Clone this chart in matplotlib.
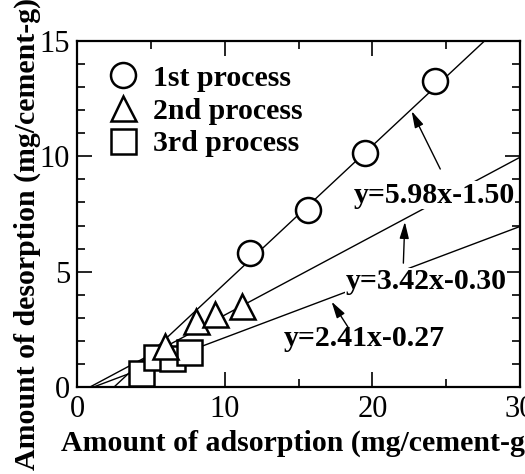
import matplotlib
matplotlib.use("Agg")
import matplotlib.pyplot as plt
import numpy as np

plt.rcParams['font.family'] = ['Liberation Serif', 'DejaVu Serif']

# ---------------------------------------------------------------------------
# DATA
# ---------------------------------------------------------------------------
series_names = ["1st process", "2nd process", "3rd process"]
series_markers = ["o", "^", "s"]

ads_1st = [11.71, 15.66, 19.52, 24.24]
des_1st = [5.80, 7.67, 10.13, 13.26]

ads_2nd = [5.96, 8.06, 9.34, 11.15]
des_2nd = [1.76, 2.85, 3.16, 3.52]

ads_3rd = [4.32, 5.33, 6.43, 7.58]
des_3rd = [0.62, 1.32, 1.26, 1.53]

# fitted lines (slope given per 10 units of adsorption in the labels)
fit_slopes = [0.598, 0.342, 0.241]
fit_intercepts = [-1.50, -0.30, -0.27]
fit_labels = ["y=5.98x-1.50", "y=3.42x-0.30", "y=2.41x-0.27"]

# label centre and arrow tail/tip, in data coords
label_pos = [(24.17, 8.32), (23.66, 4.56), (19.43, 2.12)]
arrow_tip = [(22.66, 11.96), (22.2, 7.16), (17.24, 3.70)]
arrow_tail = [(24.6, 9.45), (22.1, 5.37), (18.35, 2.60)]

XMAX, YMAX = 30, 15
FS = 21.5

# ---------------------------------------------------------------------------
# PLOT
# ---------------------------------------------------------------------------
fig = plt.figure(figsize=(5.25, 4.74), dpi=100)
ax = fig.add_axes([0.1467, 0.1835, 0.8438, 0.73])

for slope, icpt in zip(fit_slopes, fit_intercepts):
    x0 = -icpt / slope
    xs = np.array([x0, XMAX + 5])
    ax.plot(xs, slope * xs + icpt, color="black", lw=1.0, zorder=2)

mk = dict(markersize=18, markerfacecolor="white", markeredgecolor="black",
          markeredgewidth=1.8, linestyle="none", zorder=4)
h1, = ax.plot(ads_1st, des_1st, series_markers[0], label=series_names[0], **mk)
h3, = ax.plot(ads_3rd, des_3rd, series_markers[2], label=series_names[2], **mk)
h2, = ax.plot(ads_2nd, des_2nd, series_markers[1], label=series_names[1], **mk)

for text, pos, tip, tail in zip(fit_labels, label_pos, arrow_tip, arrow_tail):
    ax.text(pos[0], pos[1], text, fontsize=FS, fontweight="bold",
            ha="center", va="center", zorder=3,
            bbox=dict(facecolor="white", edgecolor="none", pad=0.5))
    ax.annotate("", xy=tip, xytext=tail, zorder=3,
                arrowprops=dict(arrowstyle="-|>,head_length=1.0,head_width=0.28",
                                color="black", lw=1.0, shrinkA=0, shrinkB=0))

ax.legend([h1, h2, h3], series_names, loc="upper left",
          bbox_to_anchor=(0.070, 0.932), frameon=False, numpoints=1,
          prop=dict(size=FS, weight="bold"), handlelength=1.0,
          handletextpad=0.5, labelspacing=0.2, borderaxespad=0.0,
          borderpad=0.0, markerscale=1.0)

ax.set_xlim(0, XMAX)
ax.set_ylim(0, YMAX)
ax.set_xticks([0, 10, 20, 30])
ax.set_yticks([0, 5, 10, 15])
ax.set_xticks(np.arange(0, 31, 5), minor=True)
ax.set_yticks(np.arange(0, 16, 1), minor=True)
ax.tick_params(which="both", direction="in", top=True, right=True,
               labelsize=22, width=1.2)
ax.tick_params(which="major", length=11, pad=6)
ax.tick_params(which="minor", length=6)
ax.tick_params(axis="y", pad=5)
for sp in ax.spines.values():
    sp.set_linewidth(1.6)

fig.text(0.568, 1 - 451 / 474, "Amount of adsorption (mg/cement-g)",
         fontsize=FS, fontweight="bold", ha="center", va="baseline")
fig.text(27 / 525, 1 - 470 / 474, "Amount of desorption (mg/cement-g)",
         fontsize=FS, fontweight="bold", ha="center", va="bottom",
         rotation=90)

fig.savefig("out.png", dpi=100)
